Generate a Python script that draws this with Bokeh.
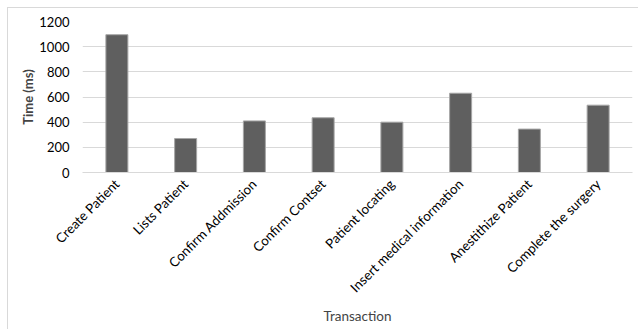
from bokeh.plotting import figure
from bokeh.embed import file_html
from bokeh.resources import INLINE
from bokeh.models import ColumnDataSource, FixedTicker
import math

categories = ["Create Patient", "Lists Patient", "Confirm Addmission", "Confirm Contset",
              "Patient locating", "Insert medical information", "Anestithize Patient",
              "Complete the surgery"]
times = [1095, 270, 410, 435, 400, 630, 345, 535]
y_ticks = [0, 200, 400, 600, 800, 1000, 1200]

src = ColumnDataSource(dict(cat=categories, t=times))

FONT = "Lato"

p = figure(x_range=categories, y_range=(0, 1200), frame_width=550, frame_height=151,
           output_backend="svg", toolbar_location=None,
           min_border_left=74, min_border_right=7, min_border_top=13, min_border_bottom=158)
p.styles = {"margin-left": "7px", "margin-top": "7px",
            "border-left": "1px solid #d9d9d9", "border-top": "1px solid #d9d9d9"}

p.vbar(x="cat", top="t", width=0.32, source=src, fill_color="#5f5f5f",
       line_color="#a6a6a6", line_width=1)

p.outline_line_color = None
p.xgrid.grid_line_color = None
p.ygrid.grid_line_color = "#d9d9d9"
p.ygrid.grid_line_width = 1
p.yaxis.ticker = FixedTicker(ticks=y_ticks)

p.yaxis.axis_line_color = None
p.yaxis.major_tick_line_color = None
p.yaxis.minor_tick_line_color = None
p.yaxis.major_label_text_font = FONT
p.yaxis.major_label_text_font_size = "13px"
p.yaxis.major_label_text_color = "#000000"
p.yaxis.major_label_standoff = 7
p.yaxis.axis_label = "Time (ms)"
p.yaxis.axis_label_text_font = FONT
p.yaxis.axis_label_text_font_size = "13px"
p.yaxis.axis_label_text_font_style = "bold"
p.yaxis.axis_label_standoff = 0

p.xaxis.axis_line_color = "#d9d9d9"
p.xaxis.major_tick_line_color = None
p.xaxis.minor_tick_line_color = None
p.xaxis.major_label_orientation = math.pi / 4
p.xaxis.major_label_text_font = FONT
p.xaxis.major_label_text_font_size = "13.3px"
p.xaxis.major_label_text_color = "#000000"
p.xaxis.major_label_standoff = 3
p.xaxis.axis_label = "Transaction"
p.xaxis.axis_label_text_font = FONT
p.xaxis.axis_label_text_font_size = "13.5px"
p.xaxis.axis_label_text_font_style = "normal"
p.xaxis.axis_label_standoff = 4

open("out.html", "w").write(file_html(p, INLINE))
